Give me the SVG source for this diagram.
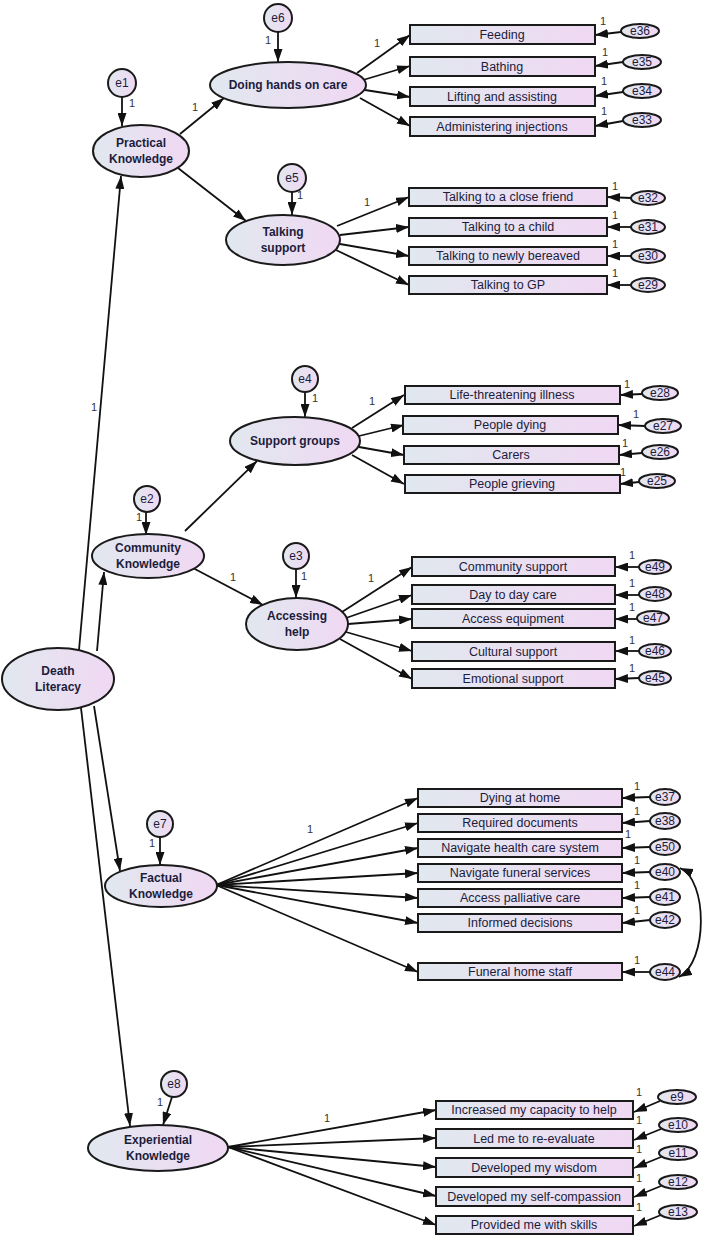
<svg xmlns="http://www.w3.org/2000/svg" width="703" height="1239" viewBox="0 0 703 1239">
<defs>
<linearGradient id="g" x1="0" y1="0" x2="1" y2="0">
<stop offset="0" stop-color="#e1e8ef"/>
<stop offset="1" stop-color="#f0d8f3"/>
</linearGradient>
<marker id="ah" markerWidth="13" markerHeight="9" refX="13" refY="4.5" orient="auto-start-reverse" markerUnits="userSpaceOnUse">
<path d="M0,0 L13,4.5 L0,9 z" fill="#111"/>
</marker>
<style>
.sh{fill:url(#g);stroke:#1a1a1a;stroke-width:2}
.lt{font-family:"Liberation Sans",Arial,sans-serif;font-size:12px;font-weight:bold;fill:#1c1c3c;text-anchor:middle}
.bt{font-family:"Liberation Sans",Arial,sans-serif;font-size:12.5px;fill:#1c1c3c;text-anchor:middle}
.et{font-family:"Liberation Sans",Arial,sans-serif;font-size:12px;fill:#1c1c3c;text-anchor:middle}
.one{font-family:"Liberation Sans",Arial,sans-serif;font-size:11px;fill:#333;text-anchor:middle}
.c line,.c path{stroke:#111;stroke-width:1.8;fill:none;marker-end:url(#ah)}
.c path.dbl{marker-start:url(#ah)}
</style>
</defs>
<rect width="703" height="1239" fill="#fff"/>

<g id="connectors" class="c">
<!-- Death Literacy -->
<line x1="79" y1="650" x2="121" y2="176"/>
<line x1="97" y1="651" x2="104" y2="572"/>
<line x1="94" y1="706" x2="120" y2="871"/>
<line x1="81" y1="708" x2="130" y2="1126"/>
<!-- Practical -->
<line x1="180" y1="134" x2="224" y2="98"/>
<line x1="178" y1="168" x2="246" y2="221"/>
<!-- Community -->
<line x1="185" y1="531" x2="257" y2="461"/>
<line x1="193" y1="568" x2="263" y2="605"/>
<!-- error circles -->
<line x1="122" y1="97" x2="122" y2="126"/>
<line x1="278" y1="32" x2="278" y2="62"/>
<line x1="292" y1="192" x2="292" y2="215"/>
<line x1="305" y1="392" x2="305" y2="417"/>
<line x1="146" y1="512" x2="146" y2="535"/>
<line x1="296" y1="569" x2="296" y2="598"/>
<line x1="160" y1="837" x2="160" y2="865"/>
<line x1="172" y1="1097" x2="163" y2="1125"/>
<!-- Doing hands on care -->
<line x1="357" y1="73" x2="410" y2="35"/>
<line x1="363" y1="80" x2="410" y2="66"/>
<line x1="365" y1="90" x2="410" y2="97"/>
<line x1="360" y1="98" x2="410" y2="126"/>
<!-- Talking support -->
<line x1="337" y1="226" x2="409" y2="197"/>
<line x1="340" y1="235" x2="409" y2="227"/>
<line x1="340" y1="244" x2="409" y2="256"/>
<line x1="336" y1="250" x2="409" y2="285"/>
<!-- Support groups -->
<line x1="352" y1="428" x2="404" y2="395"/>
<line x1="359" y1="436" x2="404" y2="425"/>
<line x1="359" y1="447" x2="404" y2="455"/>
<line x1="352" y1="455" x2="404" y2="484"/>
<!-- Accessing help -->
<line x1="342" y1="612" x2="412" y2="567"/>
<line x1="346" y1="618" x2="412" y2="595"/>
<line x1="348" y1="624" x2="412" y2="619"/>
<line x1="346" y1="632" x2="412" y2="651"/>
<line x1="340" y1="639" x2="412" y2="679"/>
<!-- Factual -->
<line x1="216" y1="885" x2="418" y2="798"/>
<line x1="216" y1="885" x2="418" y2="823"/>
<line x1="216" y1="885" x2="418" y2="848"/>
<line x1="216" y1="885" x2="418" y2="873"/>
<line x1="216" y1="885" x2="418" y2="898"/>
<line x1="216" y1="885" x2="418" y2="923"/>
<line x1="216" y1="885" x2="418" y2="972"/>
<!-- Experiential -->
<line x1="228" y1="1147" x2="436" y2="1110"/>
<line x1="228" y1="1147" x2="436" y2="1138"/>
<line x1="228" y1="1147" x2="436" y2="1167"/>
<line x1="228" y1="1147" x2="436" y2="1196"/>
<line x1="228" y1="1147" x2="436" y2="1225"/>
<!-- item errors -->
<line x1="621" y1="32" x2="595" y2="35"/>
<line x1="623" y1="62" x2="595" y2="66"/>
<line x1="623" y1="92" x2="595" y2="96"/>
<line x1="623" y1="121" x2="595" y2="126"/>
<line x1="631" y1="198" x2="607" y2="197"/>
<line x1="631" y1="227" x2="607" y2="227"/>
<line x1="631" y1="256" x2="607" y2="256"/>
<line x1="631" y1="285" x2="607" y2="285"/>
<line x1="642" y1="394" x2="620" y2="395"/>
<line x1="645" y1="426" x2="618" y2="425"/>
<line x1="642" y1="453" x2="619" y2="455"/>
<line x1="639" y1="482" x2="620" y2="484"/>
<line x1="639" y1="567" x2="615" y2="567"/>
<line x1="639" y1="595" x2="615" y2="595"/>
<line x1="637" y1="619" x2="615" y2="619"/>
<line x1="639" y1="651" x2="615" y2="651"/>
<line x1="639" y1="678" x2="615" y2="679"/>
<line x1="650" y1="797" x2="622" y2="798"/>
<line x1="650" y1="821" x2="622" y2="823"/>
<line x1="650" y1="847" x2="622" y2="848"/>
<line x1="650" y1="872" x2="622" y2="873"/>
<line x1="650" y1="897" x2="622" y2="898"/>
<line x1="650" y1="920" x2="622" y2="923"/>
<line x1="650" y1="972" x2="622" y2="972"/>
<line x1="660" y1="1101" x2="634" y2="1112"/>
<line x1="661" y1="1129" x2="634" y2="1140"/>
<line x1="661" y1="1157" x2="634" y2="1168"/>
<line x1="661" y1="1186" x2="634" y2="1197"/>
<line x1="661" y1="1215" x2="634" y2="1226"/>
<path class="dbl" d="M680,868 C708,880 708,962 679,977"/>
</g>

<g id="labels-1">
<text class="one" x="94" y="411">1</text>
<text class="one" x="195" y="111">1</text>
<text class="one" x="233" y="581">1</text>
<text class="one" x="132" y="107">1</text>
<text class="one" x="268" y="44">1</text>
<text class="one" x="300" y="199">1</text>
<text class="one" x="315" y="402">1</text>
<text class="one" x="139" y="521">1</text>
<text class="one" x="304" y="580">1</text>
<text class="one" x="152" y="847">1</text>
<text class="one" x="160" y="1106">1</text>
<text class="one" x="377" y="47">1</text>
<text class="one" x="367" y="206">1</text>
<text class="one" x="372" y="405">1</text>
<text class="one" x="371" y="582">1</text>
<text class="one" x="310" y="833">1</text>
<text class="one" x="327" y="1122">1</text>
<text class="one" x="603" y="25">1</text>
<text class="one" x="605" y="56">1</text>
<text class="one" x="604" y="85">1</text>
<text class="one" x="604" y="115">1</text>
<text class="one" x="615" y="190">1</text>
<text class="one" x="615" y="219">1</text>
<text class="one" x="615" y="248">1</text>
<text class="one" x="615" y="277">1</text>
<text class="one" x="627" y="388">1</text>
<text class="one" x="636" y="418">1</text>
<text class="one" x="625" y="447">1</text>
<text class="one" x="623" y="476">1</text>
<text class="one" x="632" y="559">1</text>
<text class="one" x="632" y="587">1</text>
<text class="one" x="632" y="611">1</text>
<text class="one" x="632" y="644">1</text>
<text class="one" x="632" y="672">1</text>
<text class="one" x="637" y="790">1</text>
<text class="one" x="637" y="815">1</text>
<text class="one" x="628" y="838">1</text>
<text class="one" x="637" y="864">1</text>
<text class="one" x="637" y="889">1</text>
<text class="one" x="637" y="914">1</text>
<text class="one" x="637" y="964">1</text>
<text class="one" x="639" y="1096">1</text>
<text class="one" x="639" y="1124">1</text>
<text class="one" x="639" y="1153">1</text>
<text class="one" x="639" y="1182">1</text>
<text class="one" x="639" y="1211">1</text>
</g>

<!-- latent variables -->
<g id="death-literacy"><ellipse class="sh" cx="58" cy="679" rx="56" ry="31"/><text class="lt" x="58" y="675">Death</text><text class="lt" x="58" y="691">Literacy</text></g>
<g id="practical-knowledge"><ellipse class="sh" cx="141" cy="151" rx="48" ry="26"/><text class="lt" x="141" y="147">Practical</text><text class="lt" x="141" y="163">Knowledge</text></g>
<g id="doing-hands-on-care"><ellipse class="sh" cx="288" cy="85" rx="78" ry="23"/><text class="lt" x="288" y="89">Doing hands on care</text></g>
<g id="talking-support"><ellipse class="sh" cx="283" cy="240" rx="57" ry="25"/><text class="lt" x="283" y="236">Talking</text><text class="lt" x="283" y="252">support</text></g>
<g id="community-knowledge"><ellipse class="sh" cx="148" cy="556" rx="56" ry="22"/><text class="lt" x="148" y="552">Community</text><text class="lt" x="148" y="568">Knowledge</text></g>
<g id="support-groups"><ellipse class="sh" cx="295" cy="441" rx="65" ry="24"/><text class="lt" x="295" y="445">Support groups</text></g>
<g id="accessing-help"><ellipse class="sh" cx="297" cy="624" rx="51" ry="26"/><text class="lt" x="297" y="620">Accessing</text><text class="lt" x="297" y="636">help</text></g>
<g id="factual-knowledge"><ellipse class="sh" cx="161" cy="886" rx="56" ry="21"/><text class="lt" x="161" y="882">Factual</text><text class="lt" x="161" y="898">Knowledge</text></g>
<g id="experiential-knowledge"><ellipse class="sh" cx="158" cy="1148" rx="70" ry="23"/><text class="lt" x="158" y="1144">Experiential</text><text class="lt" x="158" y="1160">Knowledge</text></g>

<!-- latent error circles -->
<g id="e1"><circle class="sh" cx="122" cy="83" r="14"/><text class="et" x="122" y="87">e1</text></g>
<g id="e6"><circle class="sh" cx="278" cy="18" r="14"/><text class="et" x="278" y="22">e6</text></g>
<g id="e5"><circle class="sh" cx="292" cy="178" r="14"/><text class="et" x="292" y="182">e5</text></g>
<g id="e4"><circle class="sh" cx="305" cy="379" r="13"/><text class="et" x="305" y="383">e4</text></g>
<g id="e2"><circle class="sh" cx="147" cy="499" r="13"/><text class="et" x="147" y="503">e2</text></g>
<g id="e3"><circle class="sh" cx="296" cy="556" r="13"/><text class="et" x="296" y="560">e3</text></g>
<g id="e7"><circle class="sh" cx="160" cy="824" r="13"/><text class="et" x="160" y="828">e7</text></g>
<g id="e8"><circle class="sh" cx="174" cy="1084" r="13"/><text class="et" x="174" y="1088">e8</text></g>

<!-- observed: doing hands on care -->
<g id="feeding"><rect class="sh" x="410" y="25" width="185" height="19"/><text class="bt" x="502" y="39">Feeding</text></g>
<g id="bathing"><rect class="sh" x="410" y="57" width="185" height="19"/><text class="bt" x="502" y="71">Bathing</text></g>
<g id="lifting"><rect class="sh" x="410" y="87" width="185" height="19"/><text class="bt" x="502" y="101">Lifting and assisting</text></g>
<g id="injections"><rect class="sh" x="410" y="117" width="185" height="19"/><text class="bt" x="502" y="131">Administering injections</text></g>
<!-- talking -->
<g id="close-friend"><rect class="sh" x="409" y="188" width="198" height="18"/><text class="bt" x="508" y="201">Talking to a close friend</text></g>
<g id="child"><rect class="sh" x="409" y="218" width="198" height="18"/><text class="bt" x="508" y="231">Talking to a child</text></g>
<g id="bereaved"><rect class="sh" x="409" y="247" width="198" height="18"/><text class="bt" x="508" y="260">Talking to newly bereaved</text></g>
<g id="gp"><rect class="sh" x="409" y="276" width="198" height="18"/><text class="bt" x="508" y="289">Talking to GP</text></g>
<!-- support groups -->
<g id="life-threatening"><rect class="sh" x="405" y="386" width="215" height="18"/><text class="bt" x="512" y="399">Life-threatening illness</text></g>
<g id="people-dying"><rect class="sh" x="403" y="416" width="215" height="18"/><text class="bt" x="510" y="429">People dying</text></g>
<g id="carers"><rect class="sh" x="404" y="446" width="215" height="18"/><text class="bt" x="511" y="459">Carers</text></g>
<g id="people-grieving"><rect class="sh" x="405" y="475" width="215" height="18"/><text class="bt" x="512" y="488">People grieving</text></g>
<!-- accessing help -->
<g id="community-support"><rect class="sh" x="412" y="557" width="203" height="19"/><text class="bt" x="513" y="571">Community support</text></g>
<g id="day-to-day"><rect class="sh" x="412" y="585" width="203" height="19"/><text class="bt" x="513" y="599">Day to day care</text></g>
<g id="access-equipment"><rect class="sh" x="412" y="609" width="203" height="19"/><text class="bt" x="513" y="623">Access equipment</text></g>
<g id="cultural-support"><rect class="sh" x="412" y="642" width="203" height="19"/><text class="bt" x="513" y="656">Cultural support</text></g>
<g id="emotional-support"><rect class="sh" x="412" y="669" width="203" height="19"/><text class="bt" x="513" y="683">Emotional support</text></g>
<!-- factual -->
<g id="dying-at-home"><rect class="sh" x="418" y="789" width="204" height="18"/><text class="bt" x="520" y="802">Dying at home</text></g>
<g id="required-documents"><rect class="sh" x="418" y="814" width="204" height="18"/><text class="bt" x="520" y="827">Required documents</text></g>
<g id="navigate-hcs"><rect class="sh" x="418" y="839" width="204" height="18"/><text class="bt" x="520" y="852">Navigate health care system</text></g>
<g id="navigate-fs"><rect class="sh" x="418" y="864" width="204" height="18"/><text class="bt" x="520" y="877">Navigate funeral services</text></g>
<g id="palliative"><rect class="sh" x="418" y="889" width="204" height="18"/><text class="bt" x="520" y="902">Access palliative care</text></g>
<g id="informed"><rect class="sh" x="418" y="914" width="204" height="18"/><text class="bt" x="520" y="927">Informed decisions</text></g>
<g id="funeral-home"><rect class="sh" x="418" y="963" width="204" height="17"/><text class="bt" x="520" y="976">Funeral home staff</text></g>
<!-- experiential -->
<g id="capacity"><rect class="sh" x="436" y="1101" width="197" height="18"/><text class="bt" x="534" y="1114">Increased my capacity to help</text></g>
<g id="re-evaluate"><rect class="sh" x="436" y="1129" width="197" height="19"/><text class="bt" x="534" y="1143">Led me to re-evaluate</text></g>
<g id="wisdom"><rect class="sh" x="436" y="1158" width="197" height="19"/><text class="bt" x="534" y="1172">Developed my wisdom</text></g>
<g id="self-compassion"><rect class="sh" x="436" y="1187" width="197" height="19"/><text class="bt" x="534" y="1201">Developed my self-compassion</text></g>
<g id="skills"><rect class="sh" x="436" y="1216" width="197" height="18"/><text class="bt" x="534" y="1229">Provided me with skills</text></g>

<!-- item errors -->
<g id="e36"><ellipse class="sh" cx="640" cy="31" rx="19" ry="7"/><text class="et" x="640" y="35">e36</text></g>
<g id="e35"><ellipse class="sh" cx="642" cy="62" rx="19" ry="7"/><text class="et" x="642" y="66">e35</text></g>
<g id="e34"><ellipse class="sh" cx="642" cy="91" rx="19" ry="7"/><text class="et" x="642" y="95">e34</text></g>
<g id="e33"><ellipse class="sh" cx="642" cy="120" rx="19" ry="7"/><text class="et" x="642" y="124">e33</text></g>
<g id="e32"><ellipse class="sh" cx="648" cy="198" rx="17" ry="7"/><text class="et" x="648" y="202">e32</text></g>
<g id="e31"><ellipse class="sh" cx="648" cy="227" rx="17" ry="7"/><text class="et" x="648" y="231">e31</text></g>
<g id="e30"><ellipse class="sh" cx="648" cy="256" rx="17" ry="7"/><text class="et" x="648" y="260">e30</text></g>
<g id="e29"><ellipse class="sh" cx="648" cy="285" rx="17" ry="7"/><text class="et" x="648" y="289">e29</text></g>
<g id="e28"><ellipse class="sh" cx="660" cy="393" rx="18" ry="7"/><text class="et" x="660" y="397">e28</text></g>
<g id="e27"><ellipse class="sh" cx="663" cy="426" rx="18" ry="7"/><text class="et" x="663" y="430">e27</text></g>
<g id="e26"><ellipse class="sh" cx="660" cy="452" rx="18" ry="7"/><text class="et" x="660" y="456">e26</text></g>
<g id="e25"><ellipse class="sh" cx="657" cy="481" rx="18" ry="7"/><text class="et" x="657" y="485">e25</text></g>
<g id="e49"><ellipse class="sh" cx="655" cy="567" rx="16" ry="7"/><text class="et" x="655" y="571">e49</text></g>
<g id="e48"><ellipse class="sh" cx="655" cy="594" rx="16" ry="7"/><text class="et" x="655" y="598">e48</text></g>
<g id="e47"><ellipse class="sh" cx="653" cy="618" rx="16" ry="7"/><text class="et" x="653" y="622">e47</text></g>
<g id="e46"><ellipse class="sh" cx="655" cy="651" rx="16" ry="7"/><text class="et" x="655" y="655">e46</text></g>
<g id="e45"><ellipse class="sh" cx="655" cy="678" rx="16" ry="7"/><text class="et" x="655" y="682">e45</text></g>
<g id="e37"><ellipse class="sh" cx="665" cy="797" rx="15" ry="8"/><text class="et" x="665" y="801">e37</text></g>
<g id="e38"><ellipse class="sh" cx="665" cy="821" rx="15" ry="8"/><text class="et" x="665" y="825">e38</text></g>
<g id="e50"><ellipse class="sh" cx="665" cy="847" rx="15" ry="8"/><text class="et" x="665" y="851">e50</text></g>
<g id="e40"><ellipse class="sh" cx="665" cy="872" rx="15" ry="8"/><text class="et" x="665" y="876">e40</text></g>
<g id="e41"><ellipse class="sh" cx="665" cy="897" rx="15" ry="8"/><text class="et" x="665" y="901">e41</text></g>
<g id="e42"><ellipse class="sh" cx="665" cy="920" rx="15" ry="8"/><text class="et" x="665" y="924">e42</text></g>
<g id="e44"><ellipse class="sh" cx="665" cy="972" rx="15" ry="8"/><text class="et" x="665" y="976">e44</text></g>
<g id="e9"><ellipse class="sh" cx="677" cy="1097" rx="19" ry="7"/><text class="et" x="677" y="1101">e9</text></g>
<g id="e10"><ellipse class="sh" cx="678" cy="1125" rx="19" ry="7"/><text class="et" x="678" y="1129">e10</text></g>
<g id="e11"><ellipse class="sh" cx="678" cy="1153" rx="19" ry="7"/><text class="et" x="678" y="1157">e11</text></g>
<g id="e12"><ellipse class="sh" cx="678" cy="1182" rx="19" ry="7"/><text class="et" x="678" y="1186">e12</text></g>
<g id="e13"><ellipse class="sh" cx="678" cy="1212" rx="19" ry="7"/><text class="et" x="678" y="1216">e13</text></g>
</svg>
